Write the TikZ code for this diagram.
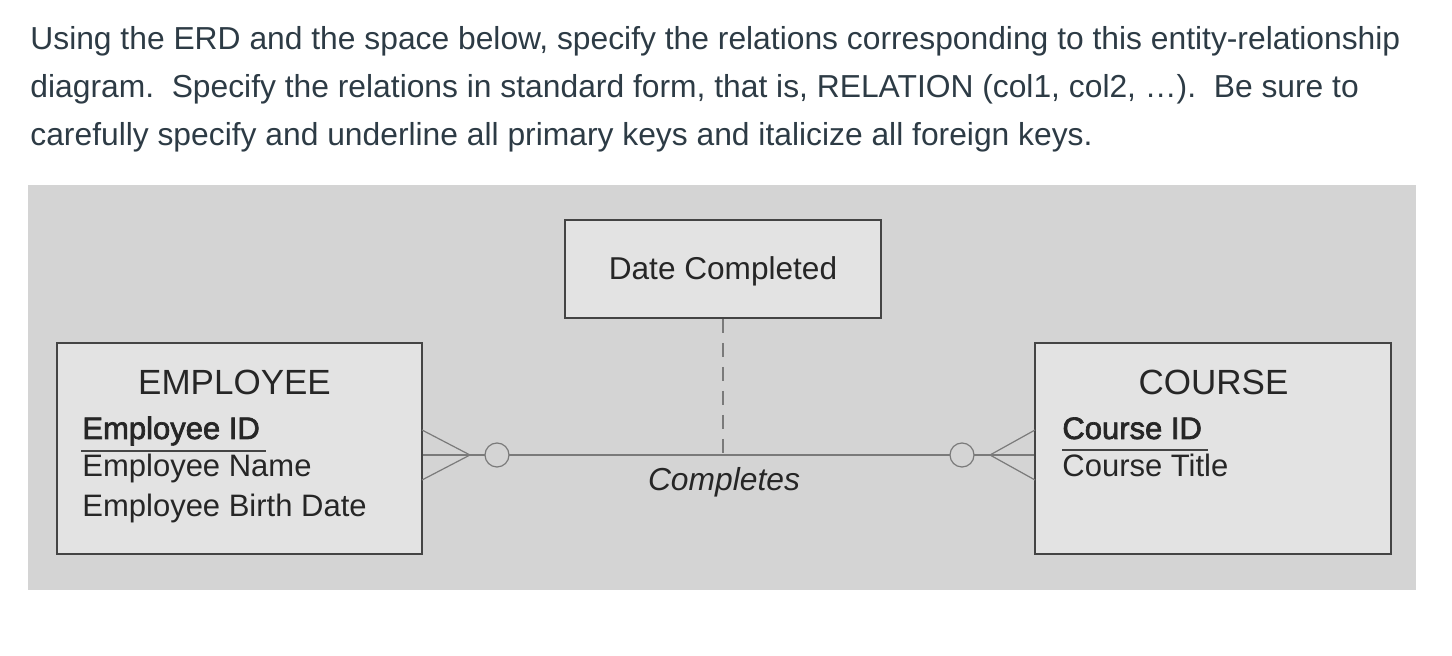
\documentclass[tikz,border=0pt]{standalone}
\usepackage{fontspec}
\setmainfont{Liberation Sans}
\newfontfamily\keyfont{Liberation Sans}[FakeBold=2.2]
\usepackage{tikz}
\usetikzlibrary{calc, positioning}

\definecolor{panelgray}{HTML}{D4D4D4}
\definecolor{boxgray}{HTML}{E3E3E3}
\definecolor{edgegray}{HTML}{444444}
\definecolor{linkgray}{HTML}{7A7A7A}
\definecolor{textslate}{HTML}{2D3B45}

\tikzset{
  entity/.style={draw=edgegray, line width=1pt, fill=boxgray, inner sep=0pt},
  attr/.style={anchor=base west, inner sep=0pt, text=black!85, font=\fontsize{15.5}{18}\selectfont},
  keyattr/.style={attr, font=\fontsize{15.5}{18}\keyfont},
  title/.style={anchor=base, inner sep=0pt, text=black!85, font=\fontsize{17.5}{20}\selectfont},
  link/.style={draw=linkgray, line width=0.6pt},
  prose/.style={anchor=base west, inner sep=0pt, text=textslate, font=\fontsize{15.9}{19}\selectfont}
}

\begin{document}
\begin{tikzpicture}[x=0.5pt, y=-0.5pt]
  \useasboundingbox (0,0) rectangle (1452,656);
  % question text
  \node[prose] (q1) at (30,50) {Using the ERD and the space below, specify the relations corresponding to this entity-relationship};
  \node[prose] (q2) at (30,98) {diagram.\ \ Specify the relations in standard form, that is, RELATION (col1, col2, \dots).\ \ Be sure to};
  \node[prose] (q3) at (30,146) {carefully specify and underline all primary keys and italicize all foreign keys.};
  % grey panel
  \fill[panelgray] (28,185) rectangle (1416,590);
  % entities
  \node[entity, minimum width=182.5pt, minimum height=105.5pt] (emp) at (239.5,448.5) {};
  \node[entity, minimum width=178pt, minimum height=105.5pt] (crs) at (1213,448.5) {};
  \node[entity, minimum width=158pt, minimum height=49pt] (date) at (723,269) {};
  \node[anchor=base, inner sep=0pt, text=black!85, font=\fontsize{15.8}{18}\selectfont] (datetxt) at (723,280) {Date Completed};
  % employee attributes
  \node[title] (emptitle) at (234.5,395) {EMPLOYEE};
  \node[keyattr] (empid) at (82,439) {Employee ID};
  \node[attr] (empname) at (82,477) {Employee Name};
  \node[attr] (empbirth) at (82,517) {Employee Birth Date};
  \draw[edgegray, line width=0.8pt] (81,451) -- (266,451);
  % course attributes
  \node[title] (crstitle) at (1213.5,395) {COURSE};
  \node[keyattr] (crsid) at (1062,439) {Course ID};
  \node[attr] (crsname) at (1062,477) {Course Title};
  \draw[edgegray, line width=0.8pt] (1062,450) -- (1208,450);
  % relationship line
  \coordinate (empend) at (emp.east |- 0,455);
  \coordinate (crsend) at (crs.west |- 0,455);
  \coordinate (midpt) at (date.south |- 0,455);
  \draw[link] (empend) -- (crsend);
  \draw[link, dash pattern=on 7pt off 5pt] (date.south) -- (midpt);
  % crow's feet and optional circles
  \draw[link] (422,430) -- (470,455) -- (422,480);
  \draw[link, fill=panelgray] (497,455) circle (6pt);
  \draw[link] (1035,430) -- (990,455) -- (1035,480);
  \draw[link, fill=panelgray] (962,455) circle (6pt);
  \node[anchor=base, inner sep=0pt, text=black!85, font=\fontsize{15.9}{18}\selectfont\itshape] (rel) at (724,491) {Completes};
\end{tikzpicture}
\end{document}
